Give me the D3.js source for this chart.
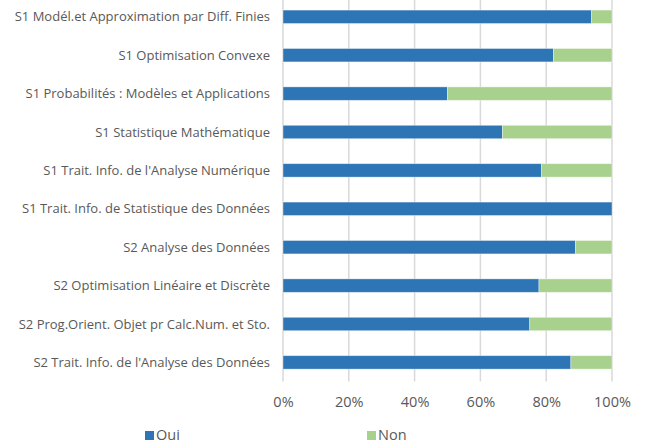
<!DOCTYPE html>
<html>
<head>
<meta charset="utf-8">
<script src="https://cdn.jsdelivr.net/npm/d3@7"></script>
<style>
  body { margin: 0; background: #fff; }
  svg { display: block; }
  text { font-family: "Open Sans", "DejaVu Sans", sans-serif; fill: #595959; }
</style>
</head>
<body>
<script>
// data (percent)
var categories = [
    "S1 Modél.et Approximation par Diff. Finies",
    "S1 Optimisation Convexe",
    "S1 Probabilités : Modèles et Applications",
    "S1 Statistique Mathématique",
    "S1 Trait. Info. de l'Analyse Numérique",
    "S1 Trait. Info. de Statistique des Données",
    "S2 Analyse des Données",
    "S2 Optimisation Linéaire et Discrète",
    "S2 Prog.Orient. Objet pr Calc.Num. et Sto.",
    "S2 Trait. Info. de l'Analyse des Données"
];
var oui = [93.8, 82.2, 50, 66.7, 78.6, 100, 88.9, 77.8, 75, 87.5];
var non = [6.2, 17.8, 50, 33.3, 21.4, 0, 11.1, 22.2, 25, 12.5];
var seriesNames = ["Oui", "Non"];
var tickValues = [0, 20, 40, 60, 80, 100];

var colors = ["#2e75b6", "#a9d18e"];

var width = 645, height = 448;

var svg = d3.select("body").append("svg")
    .attr("width", width)
    .attr("height", height);

var x = d3.scaleLinear().domain([0, 100]).range([283, 612]);
var y = d3.scaleBand().domain(categories).range([-2.4, 381.6])
    .paddingInner(0.65).paddingOuter(0.325);

// gridlines
svg.append("g")
    .selectAll("line")
    .data(tickValues)
    .join("line")
    .attr("x1", d => x(d)).attr("x2", d => x(d))
    .attr("y1", 0).attr("y2", 381.6)
    .attr("stroke", "#d9d9d9")
    .attr("stroke-width", 1.5);

// stacked bars
var rows = categories.map((c, i) => ({cat: c, Oui: oui[i], Non: non[i]}));
var stack = d3.stack().keys(seriesNames)(rows);

svg.append("g")
    .selectAll("g")
    .data(stack)
    .join("g")
    .attr("fill", (d, i) => colors[i])
    .selectAll("rect")
    .data(d => d)
    .join("rect")
    .attr("x", d => x(d[0]))
    .attr("y", d => y(d.data.cat))
    .attr("width", d => x(d[1]) - x(d[0]))
    .attr("height", y.bandwidth())
    .attr("stroke", "#fff")
    .attr("stroke-opacity", 0.5)
    .attr("stroke-width", 0.75);

// category labels
svg.append("g")
    .selectAll("text")
    .data(categories)
    .join("text")
    .attr("x", 270)
    .attr("y", d => y(d) + y.bandwidth() / 2)
    .attr("dy", "0.35em")
    .attr("text-anchor", "end")
    .style("font-size", "13px")
    .text(d => d);

// x axis
var xAxis = svg.append("g")
    .attr("transform", "translate(0,381.6)")
    .call(d3.axisBottom(x).tickValues(tickValues).tickSize(0).tickPadding(0)
        .tickFormat(d => d + "%"));
xAxis.select(".domain").remove();
xAxis.selectAll("text")
    .attr("y", 25)
    .attr("dy", 0)
    .style("font-size", "14.5px")
    .style("fill", "#595959");

// legend
var legend = svg.append("g")
    .selectAll("g")
    .data(seriesNames)
    .join("g")
    .attr("transform", (d, i) => "translate(" + [145, 367][i] + ",431)");
legend.append("rect")
    .attr("width", 9).attr("height", 9)
    .attr("fill", (d, i) => colors[i]);
legend.append("text")
    .attr("x", 11)
    .attr("y", 9)
    .style("font-size", "14.5px")
    .text(d => d);
</script>
</body>
</html>
